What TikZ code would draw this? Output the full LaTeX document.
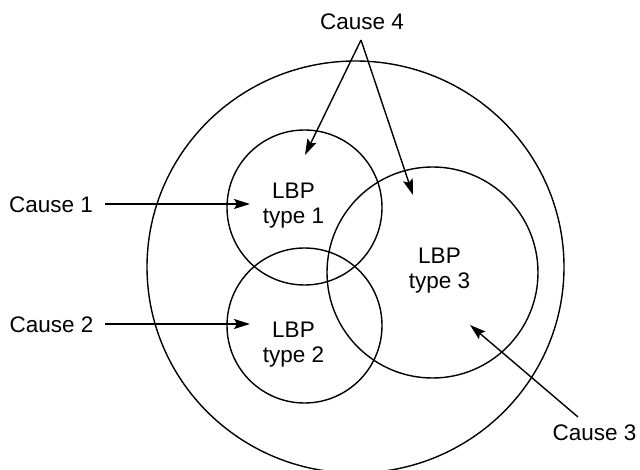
\documentclass[tikz,border=0pt]{standalone}
\usepackage{fontspec}
\setmainfont{Liberation Sans}
\usetikzlibrary{arrows.meta}
\begin{document}
\begin{tikzpicture}[x=1pt,y=-1pt,
  lbl/.style={font=\fontsize{22.5}{25}\selectfont, inner sep=0pt, align=center},
  ring/.style={draw, line width=1.4pt},
  conn/.style={line width=1.4pt, -{Stealth[length=16pt,width=10pt,inset=3pt]}}]
\useasboundingbox (0,0) rectangle (640,470);
% outer region and the three sets
\draw[ring] (355.5,267) ellipse [x radius=208.5, y radius=206];
\node[ring, circle, minimum size=155pt, inner sep=0pt] (s1) at (304.5,207.5) {};
\node[ring, circle, minimum size=155pt, inner sep=0pt] (s2) at (304.5,325.5) {};
\node[ring, circle, minimum size=211pt, inner sep=0pt] (s3) at (432.5,272.5) {};
% labels inside
\node[lbl] (t1) at (293.5,205.4) {LBP\\type 1};
\node[lbl] (t2) at (293.5,344.9) {LBP\\type 2};
\node[lbl] (t3) at (439.5,270.9) {LBP\\type 3};
% causes
\node[lbl, anchor=base] (c1) at (51,212.5) {Cause 1};
\node[lbl, anchor=base] (c2) at (51.5,332.5) {Cause 2};
\node[lbl, anchor=base] (c3) at (594.5,440) {Cause 3};
\node[lbl, anchor=base] (c4) at (362,30) {Cause 4};
% arrow ends
\coordinate (a1s) at (105,204);
\coordinate (a1e) at (250,204);
\coordinate (a2s) at (105,324);
\coordinate (a2e) at (250,324);
\coordinate (a3s) at (578,417);
\coordinate (a3e) at (470,325);
\coordinate (a4s) at (361,40);
\coordinate (a4e) at (305,155);
\coordinate (a5e) at (413,195);
\draw[conn] (a1s) -- (a1e);
\draw[conn] (a2s) -- (a2e);
\draw[conn] (a3s) -- (a3e);
\draw[conn] (a4s) -- (a4e);
\draw[conn] (a4s) -- (a5e);
\end{tikzpicture}
\end{document}
